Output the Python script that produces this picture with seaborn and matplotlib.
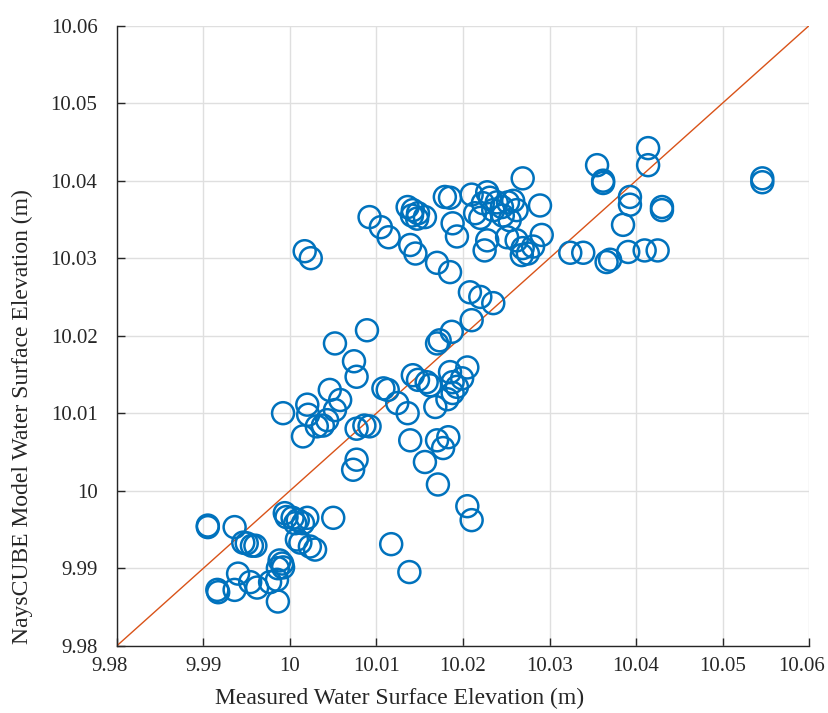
import numpy as np
import pandas as pd
import matplotlib
matplotlib.use("Agg")
import matplotlib.pyplot as plt
import matplotlib.transforms as mtransforms
import seaborn as sns

measured = [
    9.9905, 9.9905, 9.9936, 9.9946, 9.9950, 9.9956, 9.9960,
    9.9994, 9.9996, 10.0003, 10.0009, 10.0020, 10.0015, 10.0006, 10.0050,
    10.0008, 10.0012, 10.0023, 10.0029,
    9.9988, 9.9991, 9.9992, 9.9986, 9.9940, 9.9916, 9.9917, 9.9936,
    9.9954, 9.9962, 9.9977, 9.9985, 9.9986,
    10.0117, 10.0138, 10.0205, 10.0210, 10.0171,
    10.0089, 10.0052, 10.0074, 10.0077, 9.9992, 10.0020, 10.0015, 10.0021,
    10.0031, 10.0038, 10.0046, 10.0058, 10.0052, 10.0043, 10.0077, 10.0086,
    10.0092, 10.0077, 10.0073, 10.0108, 10.0113, 10.0124, 10.0136, 10.0139,
    10.0142, 10.0148, 10.0158, 10.0162, 10.0170, 10.0173, 10.0168, 10.0170,
    10.0177, 10.0183, 10.0156, 10.0187, 10.0210,
    10.0185, 10.0188, 10.0193, 10.0199, 10.0205, 10.0182, 10.0188,
    10.0092, 10.0105, 10.0114, 10.0139, 10.0145, 10.0170, 10.0185,
    10.0208, 10.0220, 10.0235,
    10.0136, 10.0142, 10.0148, 10.0141, 10.0147, 10.0156,
    10.0179, 10.0185, 10.0188, 10.0193, 10.0210, 10.0214, 10.0220,
    10.0228, 10.0231, 10.0223, 10.0239, 10.0235, 10.0245, 10.0246, 10.0252,
    10.0258, 10.0262, 10.0254, 10.0228, 10.0225, 10.0251, 10.0262,
    10.0269, 10.0289, 10.0291, 10.0269, 10.0275, 10.0268, 10.0281,
    10.0017, 10.0024,
    10.0355, 10.0362, 10.0362, 10.0414, 10.0414, 10.0393, 10.0393, 10.0385,
    10.0430, 10.0430, 10.0546, 10.0546,
    10.0324, 10.0339, 10.0366, 10.0370, 10.0391, 10.0410, 10.0425,
]
modeled = [
    9.9955, 9.9953, 9.9953, 9.9933, 9.9932, 9.9929, 9.9929,
    9.9971, 9.9966, 9.9965, 9.9962, 9.9965, 9.9958, 9.9958, 9.9965,
    9.9937, 9.9933, 9.9928, 9.9924,
    9.9910, 9.9906, 9.9901, 9.9900, 9.9893, 9.9872, 9.9869, 9.9872,
    9.9882, 9.9875, 9.9882, 9.9885, 9.9857,
    9.9931, 9.9895, 9.9980, 9.9962, 10.0008,
    10.0207, 10.0190, 10.0167, 10.0147, 10.0100, 10.0111, 10.0070, 10.0098,
    10.0083, 10.0084, 10.0130, 10.0117, 10.0104, 10.0091, 10.0080, 10.0084,
    10.0083, 10.0040, 10.0027, 10.0132, 10.0130, 10.0113, 10.0100, 10.0065,
    10.0149, 10.0143, 10.0140, 10.0136, 10.0190, 10.0194, 10.0108, 10.0065,
    10.0055, 10.0069, 10.0037, 10.0205, 10.0220,
    10.0153, 10.0140, 10.0134, 10.0145, 10.0159, 10.0118, 10.0126,
    10.0353, 10.0340, 10.0327, 10.0317, 10.0306, 10.0294, 10.0282,
    10.0256, 10.0250, 10.0242,
    10.0366, 10.0362, 10.0358, 10.0355, 10.0351, 10.0353,
    10.0379, 10.0378, 10.0345, 10.0328, 10.0382, 10.0358, 10.0352,
    10.0385, 10.0378, 10.0371, 10.0372, 10.0362, 10.0366, 10.0355, 10.0372,
    10.0374, 10.0362, 10.0349, 10.0323, 10.0310, 10.0327, 10.0323,
    10.0403, 10.0368, 10.0330, 10.0313, 10.0306, 10.0304, 10.0315,
    10.0309, 10.0300,
    10.0420, 10.0400, 10.0397, 10.0442, 10.0420, 10.0379, 10.0369, 10.0343,
    10.0366, 10.0362, 10.0403, 10.0398,
    10.0307, 10.0307, 10.0295, 10.0298, 10.0308, 10.0310, 10.0310,
]
line_x = [9.98, 10.06]
line_y = [9.98, 10.06]
x_ticks = [9.98, 9.99, 10.0, 10.01, 10.02, 10.03, 10.04, 10.05, 10.06]
y_ticks = [9.98, 9.99, 10.0, 10.01, 10.02, 10.03, 10.04, 10.05, 10.06]
x_ticklabels = ["9.98", "9.99", "10", "10.01", "10.02", "10.03", "10.04", "10.05", "10.06"]
y_ticklabels = ["9.98", "9.99", "10", "10.01", "10.02", "10.03", "10.04", "10.05", "10.06"]

df = pd.DataFrame({"measured": measured, "modeled": modeled})
line_df = pd.DataFrame({"x": line_x, "y": line_y})

sns.set_style("white")
plt.rcParams["font.family"] = ["Liberation Serif", "DejaVu Serif"]

fig = plt.figure(figsize=(8.29, 7.13), dpi=100)
ax = fig.add_axes([0.1411, 0.0944, 0.9759 - 0.1411, 0.964 - 0.0944])

sns.lineplot(data=line_df, x="x", y="y", ax=ax, color="#D95319", linewidth=1.0,
             zorder=2)
sns.scatterplot(data=df, x="measured", y="modeled", ax=ax, marker="o", s=250,
                facecolor="none", edgecolor="#0072BD", linewidth=1.8, zorder=3)

ax.set_xlim(9.98, 10.06)
ax.set_ylim(9.98, 10.06)
ax.set_xticks(x_ticks)
ax.set_xticklabels(x_ticklabels)
ax.set_yticks(y_ticks)
ax.set_yticklabels(y_ticklabels)
ax.grid(True, color="#dfdfdf", linewidth=1.0, zorder=0)
ax.set_axisbelow(True)
for s in ["top", "right"]:
    ax.spines[s].set_visible(False)
for s in ["left", "bottom"]:
    ax.spines[s].set_color("#262626")
    ax.spines[s].set_linewidth(1.0)
ax.tick_params(axis="both", direction="in", length=6, width=1.0,
               colors="#262626", labelsize=15, labelcolor="#262626")
ax.tick_params(axis="y", pad=14, left=True)
ax.tick_params(axis="x", pad=8, bottom=True)

# shift first and last x tick labels slightly left, as in the reference
xlabels = ax.get_xticklabels()
shift = mtransforms.ScaledTranslation(-7.5 / 100, 0, fig.dpi_scale_trans)
for lab in (xlabels[0], xlabels[-1]):
    lab.set_transform(lab.get_transform() + shift)

ax.set_xlabel("Measured Water Surface Elevation (m)", fontsize=17,
              color="#262626")
ax.set_ylabel("NaysCUBE Model Water Surface Elevation (m)", fontsize=17,
              color="#262626")
ax.xaxis.set_label_coords(0.408, -0.0844)
ax.xaxis.label.set_va("center")
ax.yaxis.set_label_coords(-0.137, 0.369)
ax.yaxis.label.set_va("center")

fig.savefig("out.png", dpi=100)
